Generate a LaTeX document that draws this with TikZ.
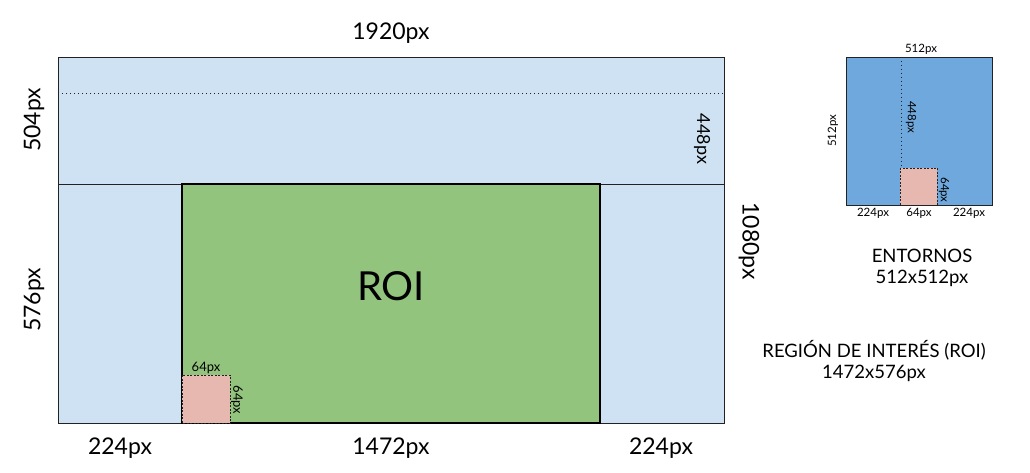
\documentclass[tikz,border=0pt]{standalone}
\usepackage{fontspec}
\setmainfont{Lato}
\usepackage{tikz}
\usetikzlibrary{calc, math}
\usetikzlibrary{positioning}
\definecolor{framecolor}{HTML}{CFE2F3}
\definecolor{roicolor}{HTML}{93C47D}
\definecolor{patchcolor}{HTML}{E6B8AF}
\definecolor{contextcolor}{HTML}{6FA8DC}
\definecolor{edgecolor}{HTML}{222222}
\newcommand{\pxfont}[1]{\fontsize{#1}{#1}\selectfont}

\begin{document}
\begin{tikzpicture}[x=1pt, y=-1pt,
  dimtext/.style={inner sep=0pt, font=\pxfont{23}},
  smalltext/.style={inner sep=0pt, font=\pxfont{13}},
  captext/.style={inner sep=0pt, font=\fontsize{18.5}{21}\selectfont, align=center},
  dotline/.style={edgecolor, line width=0.7pt, dash pattern=on 0.8pt off 3.2pt},
  patchline/.style={edgecolor, line width=0.7pt, dash pattern=on 2pt off 1.5pt}]
  \useasboundingbox (0,0) rectangle (1030,473);
  \tikzmath{
    \xmin=58;
    \xmax=724;
    \ymin=57;
    \ymax=423;
    \ysplit=184;
    \ydot=93;
    \xroi=182;
    \xroiend=600;
    \patch=48;
    \xmid=0.5 * \xmin + 0.5 * \xmax;
  }
  \coordinate (ul) at (\xmin, \ymin);
  \coordinate (lr) at (\xmax, \ymax);

  % full frame
  \draw[edgecolor, line width=0.9pt, fill=framecolor] (ul) rectangle (lr);
  \draw[dotline] (\xmin, \ydot) -- (\xmax, \ydot);
  \draw[edgecolor, line width=0.9pt] (\xmin, \ysplit) -- (\xmax, \ysplit);
  \draw[black, line width=1.6pt, fill=roicolor] (\xroi, \ysplit) rectangle (\xroiend, \ymax);
  \fill[patchcolor] (\xroi, \ymax - \patch) rectangle (\xroi + \patch, \ymax);
  \draw[patchline] (\xroi, \ymax - \patch) rectangle (\xroi + \patch, \ymax);

  \node[dimtext] (width) at (\xmid, 33) {1920px};
  \node[dimtext, rotate=90] (top) at (34, 120) {504px};
  \node[dimtext, rotate=90] (bottom) at (34, 300) {576px};
  \node[inner sep=0pt, font=\pxfont{18}, rotate=-90] (band) at (702, 139) {448px};
  \node[dimtext, rotate=-90] (height) at (749, 241) {1080px};
  \node[inner sep=0pt, font=\pxfont{40}] (roi) at (\xmid, 286) {ROI};
  \node[smalltext] (pw) at (206, 368) {64px};
  \node[smalltext, rotate=-90] (ph) at (237, 400) {64px};
  \node[dimtext] (left) at (120, 448) {224px};
  \node[dimtext] (mid) at (391, 448) {1472px};
  \node[dimtext] (right) at (661, 448) {224px};

  % context window
  \tikzmath{
    \cxmin=846;
    \cxmax=992;
    \cymin=57;
    \cymax=205;
    \cpatch=37;
    \cx=900;
  }
  \draw[edgecolor, line width=0.9pt, fill=contextcolor] (\cxmin, \cymin) rectangle (\cxmax, \cymax);
  \draw[dotline] (\cx + 1, \cymin) -- (\cx + 1, \cymax - \cpatch);
  \fill[patchcolor] (\cx, \cymax - \cpatch) rectangle (\cx + \cpatch, \cymax);
  \draw[patchline] (\cx, \cymax - \cpatch) rectangle (\cx + \cpatch, \cymax);
  \draw[edgecolor, line width=0.9pt] (\cxmin, \cymax) -- (\cxmax, \cymax);

  \node[smalltext, font=\pxfont{11.5}] (cw) at (921, 49) {512px};
  \node[smalltext, font=\pxfont{11.5}, rotate=90] (ch) at (833, 131) {512px};
  \node[smalltext, font=\pxfont{11.5}, rotate=-90] (cband) at (911, 117) {448px};
  \node[smalltext, font=\pxfont{11.5}, rotate=-90] (cph) at (944, 190) {64px};
  \node[smalltext, font=\pxfont{11.5}] (cleft) at (873, 213) {224px};
  \node[smalltext, font=\pxfont{11.5}] (cmid) at (919, 213) {64px};
  \node[smalltext, font=\pxfont{11.5}] (cright) at (969, 213) {224px};

  \node[captext] (ctx) at (922, 268) {ENTORNOS\\512x512px};
  \node[captext] (roicap) at (874, 361) {REGIÓN DE INTERÉS (ROI)\\1472x576px};
\end{tikzpicture}
\end{document}
